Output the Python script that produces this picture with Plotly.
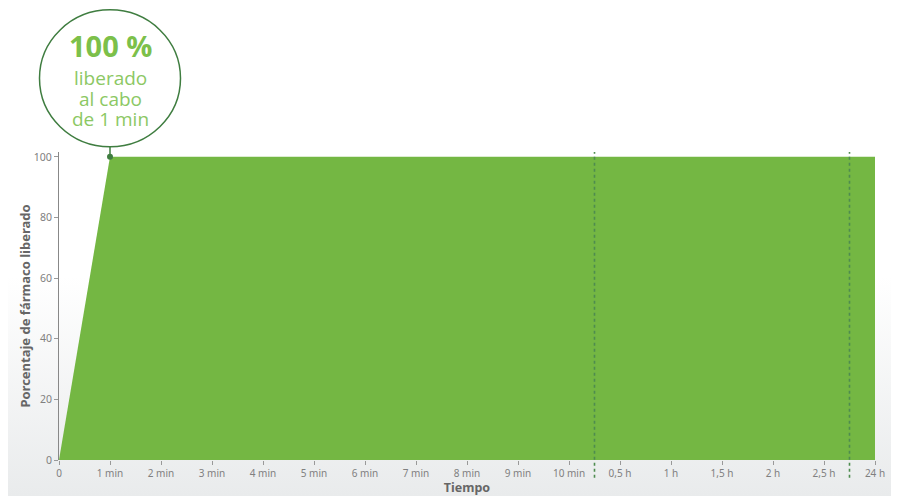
import plotly.graph_objects as go

# eje x: posiciones uniformes, etiquetas de tiempo
time_labels = ["0", "1 min", "2 min", "3 min", "4 min", "5 min", "6 min", "7 min",
               "8 min", "9 min", "10 min", "0,5 h", "1 h", "1,5 h", "2 h", "2,5 h", "24 h"]
time_pos = list(range(len(time_labels)))
percent_released = [0] + [100] * (len(time_labels) - 1)
scale_breaks = [10.5, 15.5]  # cambios de escala min -> h -> 24 h
y_ticks = [0, 20, 40, 60, 80, 100]

GREEN = "#74b743"
DARK = "#3f7d40"
LIGHT = "#7cc04a"
Y_MAX = 101.6

fig = go.Figure()

fig.add_trace(go.Scatter(
    x=time_pos, y=percent_released,
    mode="lines", fill="tozeroy",
    fillcolor=GREEN, line=dict(width=0, color=GREEN),
    hoverinfo="skip", showlegend=False,
))

# punto del callout (1 min, 100 %)
fig.add_trace(go.Scatter(
    x=[time_pos[1]], y=[percent_released[1]],
    mode="markers", marker=dict(color=DARK, size=6),
    cliponaxis=False, showlegend=False, hoverinfo="skip",
))

shapes = []
for b in scale_breaks:
    shapes.append(dict(type="line", xref="paper", yref="paper",
                       x0=b / time_pos[-1], x1=b / time_pos[-1], y0=-0.058, y1=1,
                       line=dict(color="#4e8c4f", width=1.6, dash="3px,3px"), layer="above"))

anchor_x = time_pos[1] / time_pos[-1]
anchor_y = percent_released[1] / Y_MAX
shapes.append(dict(type="line", xref="paper", yref="paper", xsizemode="pixel", ysizemode="pixel",
                   xanchor=anchor_x, yanchor=anchor_y, x0=0, x1=0, y0=0, y1=11,
                   line=dict(color=DARK, width=1.5)))
shapes.append(dict(type="circle", xref="paper", yref="paper", xsizemode="pixel", ysizemode="pixel",
                   xanchor=anchor_x, yanchor=anchor_y, x0=-70.5, x1=70.5, y0=10, y1=147,
                   line=dict(color=DARK, width=1.5), fillcolor="white"))

annotations = [
    dict(x=time_pos[1], y=100, xref="x", yref="y", text="<b>100 %</b>", showarrow=False,
         yshift=111, font=dict(family="Open Sans", size=29, color=LIGHT)),
]
for txt, shift in [("liberado", 79), ("al cabo", 58), ("de 1 min", 38)]:
    annotations.append(dict(x=time_pos[1], y=100, xref="x", yref="y", text=txt, showarrow=False,
                            yshift=shift, font=dict(family="Open Sans", size=19, color="#8cc864")))

bg_svg = ("data:image/svg+xml;utf8,<svg xmlns='http://www.w3.org/2000/svg' width='100' height='100' "
          "preserveAspectRatio='none'><defs><linearGradient id='g' x1='0' y1='0' x2='0' y2='1'>"
          "<stop offset='0.55' stop-color='%23ffffff'/><stop offset='1' stop-color='%23e9ebec'/>"
          "</linearGradient></defs><rect width='100' height='100' fill='url(%23g)'/></svg>")

# la página añade 8 px de margen al body: la figura se reduce y desplaza para compensar
fig.update_layout(
    width=891, height=488,
    margin=dict(l=51, r=24, t=144, b=36, autoexpand=False),
    paper_bgcolor="white", plot_bgcolor="rgba(0,0,0,0)",
    font=dict(family="Noto Sans", color="#777777"),
    shapes=shapes, annotations=annotations,
    images=[dict(source=bg_svg, xref="paper", yref="paper", x=-0.0625, y=1.4675,
                 sizex=1.0919, sizey=1.5844, sizing="stretch", layer="below")],
    xaxis=dict(range=[0, time_pos[-1]], tickvals=time_pos, ticktext=time_labels,
               showgrid=False, zeroline=False, showline=False, automargin=False,
               ticks="outside", ticklen=4, tickcolor="#999999",
               tickfont=dict(size=10, color="#808080"),
               title=dict(text="<b>Tiempo</b>", standoff=6,
                          font=dict(size=12.5, color="#666666"))),
    yaxis=dict(range=[0, Y_MAX], tickvals=y_ticks, showgrid=False, zeroline=False,
               showline=True, linecolor="#888888", linewidth=1, automargin=False,
               ticks="outside", ticklen=4, tickcolor="#999999",
               tickfont=dict(size=10.5, color="#808080"),
               title=dict(text="<b>Porcentaje de fármaco liberado</b>", standoff=0,
                          font=dict(size=13, color="#666666"))),
)

fig.write_html("out.html")
